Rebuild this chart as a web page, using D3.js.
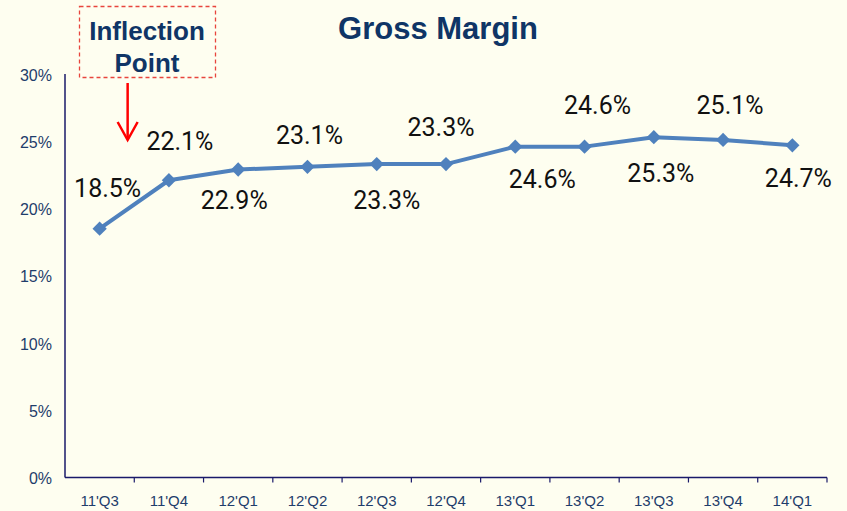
<!DOCTYPE html>
<html>
<head>
<meta charset="utf-8">
<script src="https://cdn.jsdelivr.net/npm/d3@7"></script>
<style>
  html, body { margin: 0; padding: 0; background: #fefef0; }
  #chart { width: 847px; height: 511px; }
</style>
</head>
<body>
<div id="chart"></div>
<script>
// Data
const quarters = ["11'Q3", "11'Q4", "12'Q1", "12'Q2", "12'Q3", "12'Q4", "13'Q1", "13'Q2", "13'Q3", "13'Q4", "14'Q1"];
const grossMargin = [18.5, 22.1, 22.9, 23.1, 23.3, 23.3, 24.6, 24.6, 25.3, 25.1, 24.7];
const yTicks = [0, 5, 10, 15, 20, 25, 30];

// manual label placement (offset from point), like the original slide
const labelOffsets = [
  [8, -41], [11, -39], [-4, 31], [2, -32], [10, 36], [-5, -37],
  [27, 32], [13, -42], [7, 36], [7, -35], [6, 33]
];

const width = 847, height = 511;
const margin = { top: 74, right: 20, bottom: 33, left: 65 };
const navy = '#1f3d6b';

const svg = d3.select('#chart').append('svg')
  .attr('width', width)
  .attr('height', height)
  .style('display', 'block')
  .style('background', '#fefef0');

const x = d3.scaleBand()
  .domain(quarters)
  .range([margin.left, 827])
  .padding(0);

const y = d3.scaleLinear()
  .domain([0, 30])
  .range([height - margin.bottom - 0.5, margin.top]);

// Title
svg.append('text')
  .attr('x', 438)
  .attr('y', 39)
  .attr('text-anchor', 'middle')
  .attr('font-family', 'Liberation Sans, Arial, sans-serif')
  .attr('font-weight', 'bold')
  .attr('font-size', 31)
  .attr('fill', '#0f3566')
  .text('Gross Margin');

// Y axis (labels only + line)
const yAxis = svg.append('g').attr('class', 'y-axis');
yAxis.selectAll('text')
  .data(yTicks)
  .enter().append('text')
  .attr('x', 52)
  .attr('y', d => y(d) + 1)
  .attr('dy', '0.35em')
  .attr('text-anchor', 'end')
  .attr('font-family', 'Liberation Sans, Arial, sans-serif')
  .attr('font-size', 16)
  .attr('fill', navy)
  .text(d => d + '%');

yAxis.append('line')
  .attr('x1', margin.left).attr('x2', margin.left)
  .attr('y1', y(30)).attr('y2', y(0))
  .attr('stroke', '#1a1a6a')
  .attr('stroke-width', 1.5);

// X axis
const xAxis = svg.append('g').attr('class', 'x-axis');
xAxis.append('line')
  .attr('x1', margin.left).attr('x2', 827)
  .attr('y1', y(0)).attr('y2', y(0))
  .attr('stroke', '#1a1a6a')
  .attr('stroke-width', 1.5);

xAxis.selectAll('line.tick')
  .data(quarters)
  .enter().append('line')
  .attr('class', 'tick')
  .attr('x1', d => x(d) + x.bandwidth())
  .attr('x2', d => x(d) + x.bandwidth())
  .attr('y1', y(0))
  .attr('y2', y(0) + 5)
  .attr('stroke', '#1a1a6a')
  .attr('stroke-width', 1.2);

xAxis.selectAll('text')
  .data(quarters)
  .enter().append('text')
  .attr('x', d => x(d) + x.bandwidth() / 2)
  .attr('y', 506)
  .attr('text-anchor', 'middle')
  .attr('font-family', 'Liberation Sans, Arial, sans-serif')
  .attr('font-size', 15)
  .attr('fill', navy)
  .text(d => d);

// Series line
const pts = quarters.map((q, i) => ({ q, v: grossMargin[i], i }));
const line = d3.line()
  .x(d => x(d.q) + x.bandwidth() / 2)
  .y(d => y(d.v));

svg.append('path')
  .datum(pts)
  .attr('d', line)
  .attr('fill', 'none')
  .attr('stroke', '#4f81bd')
  .attr('stroke-width', 4)
  .attr('stroke-linejoin', 'round');

svg.selectAll('path.marker')
  .data(pts)
  .enter().append('path')
  .attr('class', 'marker')
  .attr('d', d3.symbol().type(d3.symbolDiamond2).size(130))
  .attr('transform', d => `translate(${x(d.q) + x.bandwidth() / 2},${y(d.v)})`)
  .attr('fill', '#4f81bd');

// Data labels
svg.selectAll('text.dlabel')
  .data(pts)
  .enter().append('text')
  .attr('class', 'dlabel')
  .attr('x', d => x(d.q) + x.bandwidth() / 2 + labelOffsets[d.i][0])
  .attr('y', d => y(d.v) + labelOffsets[d.i][1])
  .attr('dy', '0.36em')
  .attr('text-anchor', 'middle')
  .attr('font-family', "Roboto, 'Liberation Sans', Arial, sans-serif")
  .attr('font-size', 25)
  .attr('fill', '#111')
  .text(d => d.v.toFixed(1) + '%');

// Inflection point callout
const callout = svg.append('g').attr('class', 'callout');
callout.append('rect')
  .attr('x', 79.5).attr('y', 6.5)
  .attr('width', 136).attr('height', 71)
  .attr('fill', 'none')
  .attr('stroke', '#e8453c')
  .attr('stroke-width', 1.3)
  .attr('stroke-dasharray', '4,3');

callout.selectAll('text')
  .data(['Inflection', 'Point'])
  .enter().append('text')
  .attr('x', 147)
  .attr('y', (d, i) => 40 + i * 32)
  .attr('text-anchor', 'middle')
  .attr('font-family', 'Liberation Sans, Arial, sans-serif')
  .attr('font-weight', 'bold')
  .attr('font-size', 26)
  .attr('fill', '#0f3566')
  .text(d => d);

const ax = x(quarters[0]) + x.bandwidth() / 2 + 28;
callout.append('line')
  .attr('x1', ax).attr('x2', ax)
  .attr('y1', 83).attr('y2', 139)
  .attr('stroke', '#ff0000')
  .attr('stroke-width', 2.5);
callout.append('path')
  .attr('d', `M${ax - 10},122 L${ax},140 L${ax + 10},122`)
  .attr('fill', 'none')
  .attr('stroke', '#ff0000')
  .attr('stroke-width', 2.5);
</script>
</body>
</html>
